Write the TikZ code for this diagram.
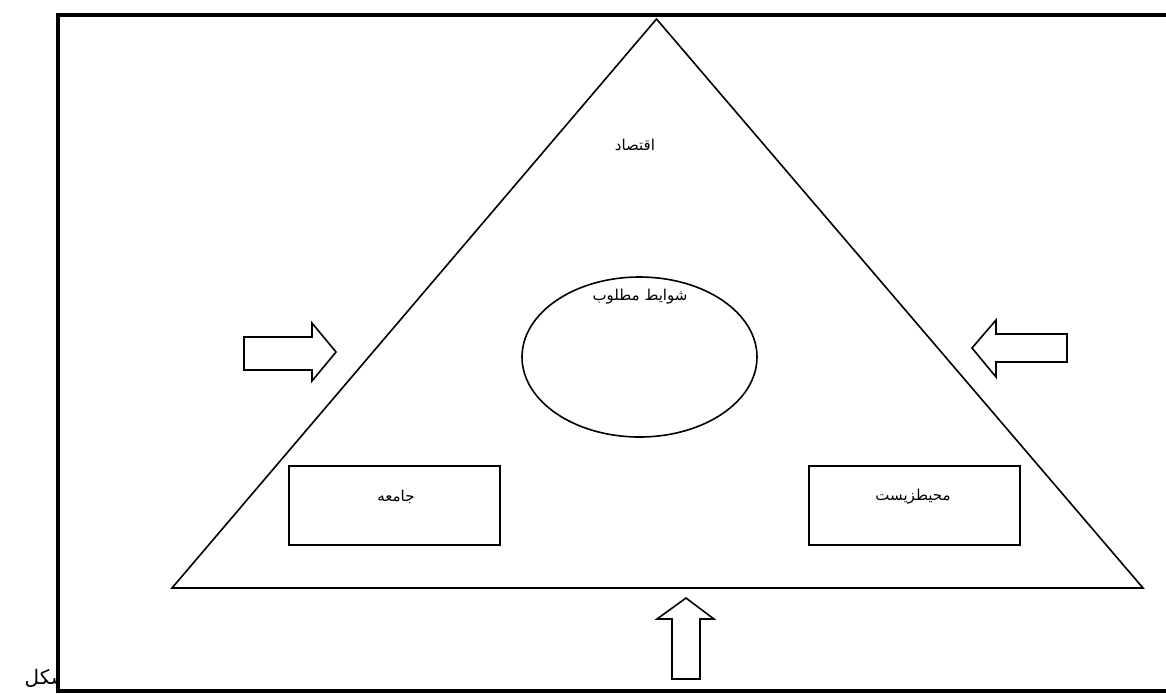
\documentclass[tikz,border=0pt]{standalone}
\usepackage{fontspec}
\newfontfamily\arabicfont[Script=Arabic]{DejaVu Sans}
\TeXXeTstate=1
\usetikzlibrary{shapes.geometric}

\tikzset{
  lbl/.style={font=\arabicfont\fontsize{7.5}{9}\selectfont,inner sep=0pt},
  box/.style={draw,line width=1pt,minimum width=105.5pt,minimum height=39.5pt},
  blockarrow/.style={draw,line width=0.8pt,line join=miter,fill=white},
}

\begin{document}
\begin{tikzpicture}[x=0.5pt,y=-0.5pt]
  \useasboundingbox (0,0) rectangle (1166,693);
  % caption, partly hidden by the frame
  \node[lbl,font=\arabicfont\fontsize{10}{12}\selectfont,anchor=base east] (caption) at (68,684) {\beginR شکل\endR};
  \fill[white] (59,600) rectangle (80,690);
  % frame
  \draw[line width=2pt] (58,15) rectangle (1190,691);
  % triangle
  \coordinate (top) at (656.5,19);
  \coordinate (bl) at (172,588);
  \coordinate (br) at (1143,588);
  \draw[line width=0.8pt,line join=miter] (top) -- (br) -- (bl) -- cycle;
  % circle
  \node[draw,ellipse,line width=0.8pt,minimum width=117.5pt,minimum height=80pt] (goal) at (639.5,357) {};
  % boxes
  \node[box] (society) at (394.5,505.5) {};
  \node[box] (environment) at (914,505.5) {};
  % labels
  \node[lbl] (economy) at (635,145) {\beginR اقتصاد\endR};
  \node[lbl] (goaltext) at (640,297) {\beginR شوایط مطلوب\endR};
  \node[lbl] (societytext) at (396,497) {\beginR جامعه\endR};
  \node[lbl] (envtext) at (913,497) {\beginR محیطزیست\endR};
  % arrows
  \draw[blockarrow] (244,337) -- (312,337) -- (312,323) -- (336,352) -- (312,381) -- (312,370) -- (244,370) -- cycle;
  \draw[blockarrow] (1067,334) -- (996,334) -- (996,320) -- (972,348) -- (996,377) -- (996,362) -- (1067,362) -- cycle;
  \draw[blockarrow] (672,679) -- (672,619) -- (657,619) -- (686,598) -- (714,619) -- (700,619) -- (700,679) -- cycle;
\end{tikzpicture}
\end{document}
